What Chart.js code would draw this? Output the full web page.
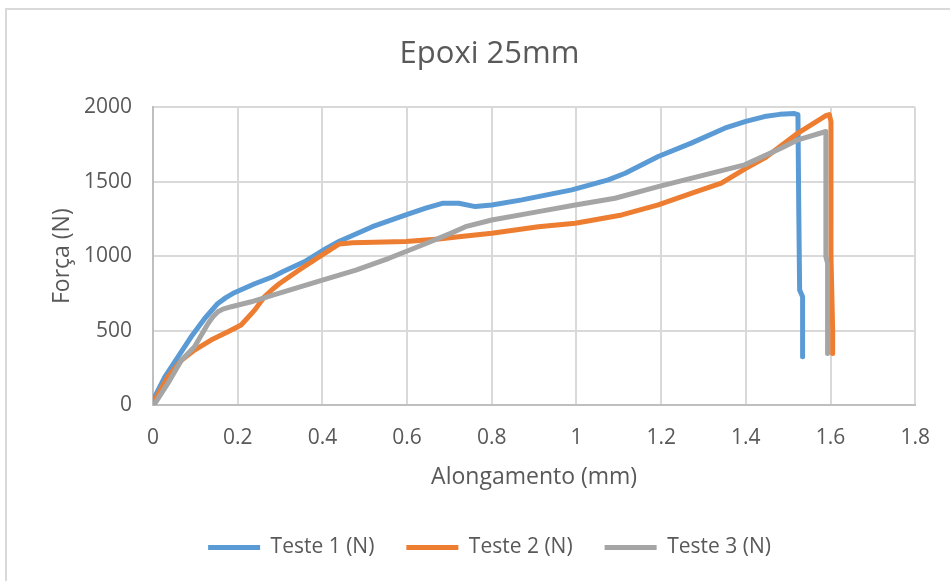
<!DOCTYPE html>
<html>
<head>
<meta charset="utf-8">
<script src="https://cdn.jsdelivr.net/npm/chart.js@4/dist/chart.umd.min.js"></script>
<style>
  html, body { margin: 0; padding: 0; background: #ffffff; overflow: hidden; }
  #frame {
    position: absolute; left: 5px; top: 8px; width: 1000px; height: 700px;
    border-left: 2px solid #d9d9d9; border-top: 2px solid #d9d9d9;
  }
  #wrap { position: absolute; left: 0; top: 0; width: 950px; height: 581px; }
</style>
</head>
<body>
<div id="frame"></div>
<div id="wrap"><canvas id="chart" width="950" height="581"></canvas></div>
<script>
// Alongamento (mm) e Força (N) para cada ensaio
const teste1X = [0, 0.004, 0.028, 0.059, 0.09, 0.122, 0.153, 0.172, 0.192, 0.24, 0.283, 0.306, 0.361, 0.408, 0.44, 0.518, 0.597, 0.644, 0.683, 0.722, 0.761, 0.80, 0.871, 0.989, 1.075, 1.115, 1.193, 1.271, 1.35, 1.40, 1.444, 1.48, 1.515, 1.523, 1.525, 1.527, 1.534, 1.534];
const teste1Y = [20, 56, 190, 325, 459, 582, 683, 722, 755, 815, 862, 895, 968, 1050, 1100, 1198, 1277, 1322, 1355, 1355, 1333, 1344, 1378, 1445, 1512, 1557, 1669, 1759, 1859, 1905, 1937, 1952, 1957, 1950, 1300, 773, 728, 325];

const teste2X = [0, 0.004, 0.035, 0.067, 0.098, 0.137, 0.177, 0.208, 0.24, 0.263, 0.283, 0.298, 0.345, 0.393, 0.44, 0.471, 0.597, 0.675, 0.722, 0.80, 0.91, 0.997, 1.107, 1.193, 1.271, 1.342, 1.40, 1.444, 1.523, 1.59, 1.597, 1.601, 1.601, 1.605, 1.605];
const teste2Y = [20, 34, 190, 302, 370, 437, 493, 538, 638, 728, 780, 815, 907, 997, 1082, 1091, 1098, 1115, 1131, 1154, 1198, 1221, 1277, 1344, 1422, 1490, 1590, 1658, 1826, 1945, 1950, 1904, 997, 504, 347];

const teste3X = [0.003, 0.035, 0.067, 0.098, 0.13, 0.142, 0.153, 0.165, 0.185, 0.232, 0.283, 0.322, 0.40, 0.479, 0.557, 0.636, 0.70, 0.738, 0.80, 0.91, 0.997, 1.091, 1.193, 1.303, 1.397, 1.483, 1.523, 1.589, 1.589, 1.593, 1.593];
const teste3Y = [5, 146, 302, 392, 549, 595, 627, 645, 661, 694, 739, 773, 840, 907, 986, 1075, 1150, 1198, 1243, 1299, 1344, 1389, 1467, 1546, 1613, 1725, 1781, 1837, 997, 952, 347];

const seriesNames = ['Teste 1 (N)', 'Teste 2 (N)', 'Teste 3 (N)'];
const xTicks = [0, 0.2, 0.4, 0.6, 0.8, 1, 1.2, 1.4, 1.6, 1.8];
const yTicks = [0, 500, 1000, 1500, 2000];

const toPoints = (xs, ys) => xs.map((x, i) => ({ x: x, y: ys[i] }));
const textColor = '#595959';
const fontFamily = '"Open Sans", "Noto Sans", sans-serif';

function lineSet(label, xs, ys, color, order) {
  return {
    label: label,
    data: toPoints(xs, ys),
    showLine: true,
    borderColor: color,
    backgroundColor: color,
    borderWidth: 5,
    borderCapStyle: 'round',
    borderJoinStyle: 'round',
    pointRadius: 0,
    pointHoverRadius: 0,
    pointStyle: 'line',
    tension: 0,
    order: order
  };
}

new Chart(document.getElementById('chart'), {
  type: 'scatter',
  data: {
    datasets: [
      lineSet(seriesNames[0], teste1X, teste1Y, '#5B9BD5', 3),
      lineSet(seriesNames[1], teste2X, teste2Y, '#ED7D31', 2),
      lineSet(seriesNames[2], teste3X, teste3Y, '#A5A5A5', 1)
    ]
  },
  options: {
    responsive: false,
    animation: false,
    layout: { padding: { left: 62, right: 33, top: 0, bottom: 13 } },
    plugins: {
      tooltip: { enabled: false },
      title: {
        display: true,
        text: 'Epoxi 25mm',
        color: textColor,
        font: { family: fontFamily, size: 31, weight: 'normal' },
        padding: { top: 36, bottom: 34 }
      },
      legend: {
        position: 'bottom',
        labels: {
          usePointStyle: true,
          pointStyleWidth: 52,
          padding: 32,
          color: textColor,
          font: { family: fontFamily, size: 21 },
          sort: (a, b) => a.datasetIndex - b.datasetIndex
        }
      }
    },
    scales: {
      x: {
        type: 'linear',
        min: 0,
        max: 1.8,
        afterBuildTicks: (axis) => { axis.ticks = xTicks.map(v => ({ value: v })); },
        ticks: {
          color: textColor,
          padding: 20,
          font: { family: fontFamily, size: 21 },
          callback: (v) => String(+Number(v).toFixed(1))
        },
        grid: { color: '#d9d9d9', lineWidth: 2, drawTicks: false },
        border: { color: '#bfbfbf', width: 2 },
        title: {
          display: true,
          text: 'Alongamento (mm)',
          color: textColor,
          font: { family: fontFamily, size: 23 },
          padding: { top: -7, bottom: 14 }
        }
      },
      y: {
        type: 'linear',
        min: 0,
        max: 2000,
        afterBuildTicks: (axis) => { axis.ticks = yTicks.map(v => ({ value: v })); },
        ticks: {
          color: textColor,
          padding: 21,
          font: { family: fontFamily, size: 21 },
          callback: (v) => String(v)
        },
        grid: { color: '#d9d9d9', lineWidth: 2, drawTicks: false },
        border: { color: '#bfbfbf', width: 2 },
        title: {
          display: true,
          text: 'Força (N)',
          color: textColor,
          font: { family: fontFamily, size: 23, lineHeight: 0 },
          padding: { top: 0, bottom: 1 }
        }
      }
    }
  }
});
</script>
</body>
</html>
